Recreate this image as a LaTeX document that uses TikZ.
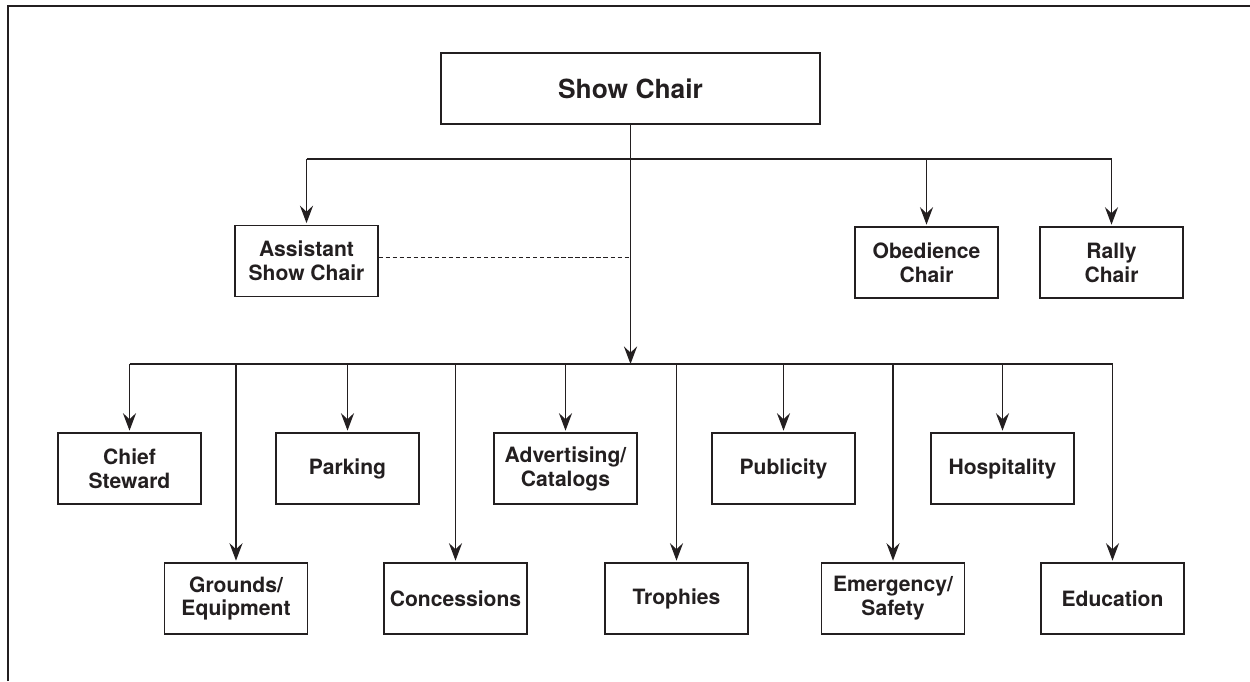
\documentclass[tikz,border=0pt]{standalone}
\usepackage{fontspec}
\setmainfont{TeX Gyre Heros}
\usetikzlibrary{arrows.meta}

\definecolor{ink}{RGB}{35,31,32}

\tikzset{
    role/.style={draw=ink, line width=0.7pt, minimum width=2.86cm, minimum height=1.42cm,
        align=center, inner sep=2pt, text=ink,
        font=\bfseries\fontsize{12}{13.6}\selectfont},
    link/.style={draw=ink, line width=0.7pt},
    >={Stealth[length=10pt, width=7.5pt, inset=3.5pt]}
}

\begin{document}
\begin{tikzpicture}[x=0.02cm, y=-0.02cm]
        \useasboundingbox (0,0) rectangle (1250,681);

        % Frame (only top and left edges show)
        \draw[link] (8,681) -- (8,6) -- (1250,6);

        % Top of the chart
        \node[role, minimum width=7.58cm, font=\bfseries\fontsize{15}{17}\selectfont] (chair) at (630.5,88.5) {Show Chair};

        % Second level
        \node[role] (asst) at (306.5,261) {Assistant\\Show Chair};
        \node[role] (obed) at (926.5,262.5) {Obedience\\Chair};
        \node[role] (rally) at (1111.5,262.5) {Rally\\Chair};

        % Committee boxes, upper row
        \node[role] (steward) at (129.5,468.5) {Chief\\Steward};
        \node[role] (parking) at (347.5,468.5) {Parking};
        \node[role] (advert) at (565.5,468.5) {Advertising/\\Catalogs};
        \node[role] (public) at (783.5,468.5) {Publicity};
        \node[role] (hosp) at (1002.5,468.5) {Hospitality};

        % Committee boxes, lower row
        \node[role] (grounds) at (236,598.5) {Grounds/\\Equipment};
        \node[role] (conc) at (455.5,598.5) {Concessions};
        \node[role] (troph) at (676.5,598.5) {Trophies};
        \node[role] (emerg) at (893,598.5) {Emergency/\\Safety};
        \node[role] (edu) at (1112.5,598.5) {Education};

        % Bus lines
        \coordinate (tbus) at (630.5,159);
        \coordinate (lbus) at (630.5,364);
        \coordinate (dash) at (630.5,257);

        \draw[link, ->] (chair.south) -- (lbus);
        \draw[link] (asst.north |- tbus) -- (rally.north |- tbus);
        \draw[link] (steward.north |- lbus) -- (edu.north |- lbus);

        % Dashed tie from assistant to the main line
        \draw[link, line width=0.55pt, dash pattern=on 2.4pt off 1.6pt] (asst.east |- dash) -- (dash);

        % Arrows down to each box
        \foreach \n in {asst,obed,rally}
            \draw[link, ->, shorten >=1pt] (\n.north |- tbus) -- (\n.north);
        \foreach \n in {steward,parking,advert,public,hosp,grounds,conc,troph,emerg,edu}
            \draw[link, ->, shorten >=1pt] (\n.north |- lbus) -- (\n.north);
    \end{tikzpicture}
\end{document}
